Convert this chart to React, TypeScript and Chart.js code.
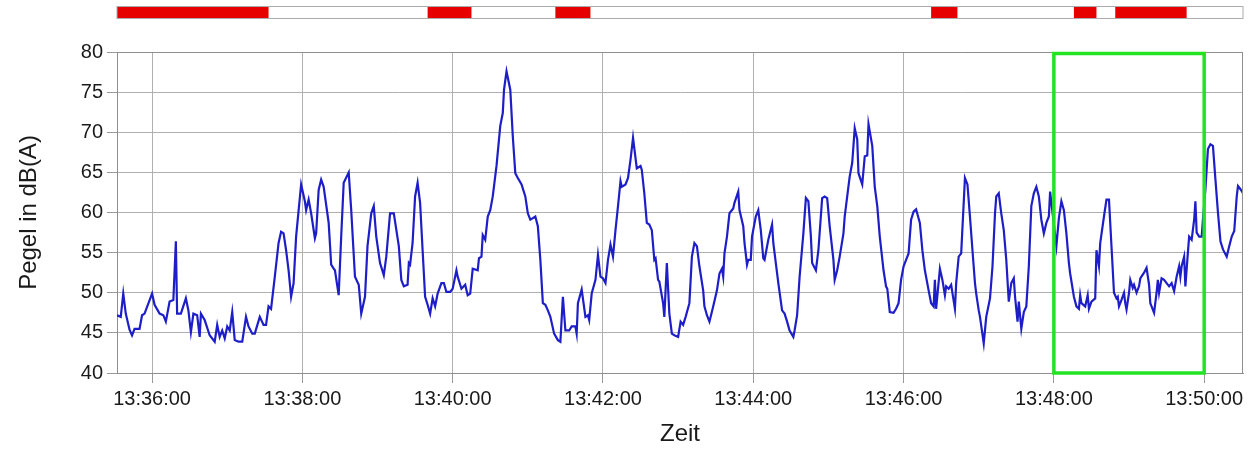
import { useEffect, useRef } from 'react';
import { Chart, registerables } from 'chart.js';

Chart.register(...registerables);

// Zeit in Sekunden nach 13:35:00
const zeitSek = [
  32, 35, 37, 39, 42, 44, 46, 50, 52, 54, 60, 62, 66, 69, 71, 74, 77, 79, 80, 83, 87, 89, 91, 93, 96, 98, 99, 102, 106, 110, 112, 114, 116, 118, 120, 122, 124, 126, 129, 132, 135, 137, 140,
  142, 146, 149, 151, 153, 155, 158, 161, 163, 165, 167, 169, 171, 173, 175, 179, 182, 183, 185, 187, 190, 191, 193, 195, 197, 201, 203, 205, 206, 209, 211, 213, 217, 219, 222, 225, 227, 230, 232, 235, 237, 239, 242, 245, 247, 250, 253, 257,
  259, 261, 264, 265, 266, 268, 270, 272, 274, 276, 278, 280, 282, 284, 286, 288, 291, 293, 295, 298, 300, 303, 304, 307, 310, 312, 314, 316, 320, 321, 323, 324, 326, 328, 330, 332, 335, 338, 340, 341, 343, 346, 348, 350, 352, 355, 358, 360, 362, 364, 366, 368, 370, 372,
  374, 376, 378, 381, 384, 386, 388, 390, 393, 395, 398, 399, 400, 403, 406, 408, 409, 411, 414, 416, 418, 420, 422, 424, 426, 428, 430, 432, 434, 435, 438, 440, 442, 444, 447, 450, 451, 453, 455, 457, 459, 461, 462, 464, 465, 468, 469, 471, 473, 475, 477, 480, 482, 484, 486, 489,
  491, 493, 495, 497, 500, 501, 503, 505, 508, 511, 513, 515, 516, 517, 519, 521, 524, 525, 528, 529, 532, 533, 535, 536, 538, 539, 542, 544, 546, 548, 549, 552, 555, 556, 558, 560, 563, 565, 567, 569, 572, 573, 575, 577, 580, 582, 584, 586, 587, 590, 592, 595, 597, 599, 601, 604,
  605, 607, 609, 612, 613, 615, 617, 619, 621, 623, 624, 627, 629, 631, 632, 635, 637, 639, 641, 644, 646, 647, 649, 652, 654, 656, 658, 660, 662, 664, 666, 668, 670, 673, 675, 677, 680, 682, 684, 685, 686, 689, 691, 693, 694, 696, 698, 701, 702, 704, 706, 709, 711, 713, 715, 717, 718, 720,
  721, 724, 726, 729, 731, 733, 734, 736, 738, 740, 742, 744, 746, 748, 749, 751, 752, 754, 756, 758, 760, 762, 764, 766, 768, 770, 772, 774, 776, 777, 782, 784, 786, 788, 790, 792, 793, 796, 798, 800, 801, 802, 805, 807, 808, 810, 813, 814, 816, 817, 820, 822, 824,
  826, 828, 830, 831, 832, 834, 836, 837, 838, 840, 841, 843, 844, 846, 848, 849, 852, 854, 856, 857, 858, 860, 862, 863, 864, 866, 868, 870, 872, 874, 876, 878, 880, 881, 882, 884, 885, 887, 888, 890, 892, 893, 894, 896, 898, 899, 901, 903, 905, 907, 909, 911, 913, 915, 918, 920, 922, 924, 926, 927, 929, 931,
];

// Pegel in dB(A)
const pegel = [
  47.2, 47.0, 49.9, 47.4, 45.4, 44.7, 45.5, 45.5, 47.2, 47.4, 49.9, 48.5, 47.4, 47.2, 46.4, 48.9, 49.1, 56.4, 47.4, 47.4, 49.3, 47.8, 45.1, 47.4, 47.2, 44.5, 47.4, 46.6, 44.7, 43.9, 46.0, 44.5, 45.3, 44.3, 45.8, 45.3, 47.6, 44.1, 43.9, 43.9, 47.0, 45.8, 44.9,
  44.9, 47.0, 46.0, 46.0, 48.3, 48.0, 52.0, 56.2, 57.6, 57.4, 55.3, 52.8, 49.5, 51.2, 57.0, 63.5, 61.4, 60.3, 61.6, 59.9, 56.8, 57.4, 62.8, 64.1, 63.2, 58.7, 53.5, 53.0, 52.8, 49.7, 57.0, 63.7, 65.0, 60.3, 52.0, 51.0, 47.4, 49.5, 55.8, 59.9, 60.8, 57.0, 53.7, 52.2, 54.5, 59.9, 59.9, 55.8,
  51.6, 50.8, 51.0, 53.7, 53.5, 56.2, 62.0, 63.7, 61.2, 55.3, 49.5, 48.5, 47.4, 49.3, 48.3, 49.9, 51.2, 51.2, 50.1, 50.1, 50.5, 52.8, 52.0, 50.5, 51.0, 49.7, 49.9, 53.0, 52.8, 54.3, 54.5, 57.2, 56.6, 59.5, 60.3, 62.0, 65.8, 70.8, 72.4, 75.3, 77.6, 75.3, 69.5, 64.9, 64.3, 63.5, 62.0, 59.9, 59.1, 59.3, 59.5, 58.3, 54.1, 48.7,
  48.5, 47.8, 47.0, 44.9, 44.1, 43.9, 49.5, 45.3, 45.3, 45.8, 45.8, 44.9, 48.7, 50.4, 47.0, 47.2, 46.6, 49.9, 51.6, 54.7, 52.0, 51.8, 51.2, 54.1, 56.0, 54.5, 57.8, 60.8, 63.9, 63.2, 63.5, 64.3, 66.6, 69.3, 65.5, 65.8, 65.3, 62.4, 58.7, 58.5, 57.8, 54.1, 54.3, 51.6, 51.4, 48.7, 47.0, 53.7, 47.4, 44.9, 44.7, 44.5, 46.4, 46.0, 47.0, 48.7,
  54.5, 56.2, 55.8, 53.3, 50.3, 48.3, 47.2, 46.4, 48.3, 50.3, 52.4, 53.0, 52.0, 54.9, 57.0, 59.9, 60.5, 61.2, 62.6, 60.3, 58.3, 56.2, 53.5, 54.1, 54.1, 57.0, 59.5, 60.3, 57.8, 54.3, 54.1, 56.6, 58.5, 56.2, 53.7, 51.2, 47.8, 47.4, 46.4, 45.3, 44.5, 45.3, 47.2, 52.0, 57.4, 61.8, 61.4, 57.0, 53.7, 52.8, 55.3, 61.8, 62.0, 61.8, 58.3, 54.1,
  51.6, 52.8, 54.5, 57.4, 59.5, 62.0, 64.5, 66.2, 70.5, 69.1, 64.9, 63.5, 67.0, 67.1, 71.0, 68.3, 63.2, 60.8, 57.0, 52.8, 50.8, 50.5, 47.6, 47.5, 48.0, 48.7, 51.6, 53.3, 54.1, 54.9, 59.1, 60.1, 60.4, 58.7, 55.3, 52.8, 50.3, 48.7, 48.3, 51.6, 48.0, 53.0, 51.6, 49.7, 50.8, 50.5, 51.0, 48.0, 51.2, 54.5, 54.9, 64.3, 63.5, 59.5, 55.3, 51.2, 49.9, 47.8,
  47.0, 43.7, 47.0, 49.3, 53.3, 59.9, 62.0, 62.4, 59.9, 57.8, 54.1, 48.9, 51.2, 51.8, 49.5, 46.4, 48.9, 45.5, 47.6, 48.3, 53.3, 60.8, 62.4, 63.2, 62.0, 59.1, 57.4, 58.7, 59.5, 62.6, 55.8, 59.3, 61.4, 60.3, 57.4, 53.7, 52.4, 49.5, 48.3, 48.0, 49.7, 48.7, 48.3, 49.7, 48.0, 48.9, 49.3, 55.3, 53.3, 56.2, 59.5, 61.6, 61.6,
  55.8, 50.0, 49.3, 49.5, 48.3, 49.1, 50.0, 48.7, 47.9, 50.0, 51.6, 50.6, 51.0, 50.0, 50.8, 51.8, 52.5, 53.1, 51.0, 48.7, 48.3, 47.5, 50.0, 51.6, 50.0, 51.8, 51.6, 51.2, 50.8, 51.2, 50.2, 52.0, 53.3, 52.0, 53.3, 54.5, 50.8, 55.0, 57.0, 56.6, 59.1, 61.4, 57.5, 57.0, 57.0, 59.1, 62.9, 67.9, 68.5, 68.3, 64.1, 60.0, 56.4, 55.4, 54.5, 55.8, 57.0, 57.7, 62.0, 63.3, 62.9, 62.4,
];

const zeitTicks = ['13:36:00', '13:38:00', '13:40:00', '13:42:00', '13:44:00', '13:46:00', '13:48:00', '13:50:00'];
const pegelMin = 40;
const pegelMax = 80;
const pegelSchritt = 5;
const xStart = '13:35:32';
const xEnde = '13:50:31';

// grün markierter Bereich
const markierungStart = '13:48:00';
const markierungEnde = '13:50:00';

// rote Ereignisse in der oberen Leiste
const ereignisStart = ['13:35:32', '13:39:40', '13:41:22', '13:46:22', '13:48:16', '13:48:49'];
const ereignisEnde = ['13:37:33', '13:40:15', '13:41:50', '13:46:43', '13:48:34', '13:49:46'];

function toSek(t: string): number {
  const [h, m, s] = t.split(':').map(Number);
  return h * 3600 + m * 60 + s - (13 * 3600 + 35 * 60);
}

const FONT = "'Liberation Sans', Arial, sans-serif";
const TEXT = '#1a1a1a';
const GRID = '#b0b0b0';

const overlay = {
  id: 'overlay',
  afterDatasetsDraw(chart: any) {
    const { ctx, chartArea: a, scales } = chart;
    const x = scales.x;
    const y = scales.y;
    ctx.save();
    // Rahmen
    ctx.strokeStyle = '#8f8f8f';
    ctx.lineWidth = 1;
    ctx.beginPath();
    ctx.moveTo(a.left, Math.round(a.top) + 0.5);
    ctx.lineTo(a.right, Math.round(a.top) + 0.5);
    ctx.moveTo(Math.round(a.right) - 0.5, a.top);
    ctx.lineTo(Math.round(a.right) - 0.5, a.bottom);
    ctx.stroke();
    // grüner Kasten
    const gx0 = x.getPixelForValue(toSek(markierungStart));
    const gx1 = x.getPixelForValue(toSek(markierungEnde));
    const gy0 = y.getPixelForValue(pegelMax);
    const gy1 = y.getPixelForValue(pegelMin);
    ctx.strokeStyle = '#22e322';
    ctx.lineWidth = 3.5;
    ctx.strokeRect(gx0, gy0 + 1.5, gx1 - gx0, gy1 - gy0 - 1.5);
    ctx.restore();
  },
  afterDraw(chart: any) {
    const { ctx, chartArea: a, scales } = chart;
    const x = scales.x;
    const top = 6.5;
    const h = 12;
    ctx.save();
    ctx.fillStyle = '#ffffff';
    ctx.fillRect(a.left, top, a.right - a.left, h);
    ctx.fillStyle = '#e60000';
    for (let i = 0; i < ereignisStart.length; i++) {
      const x0 = x.getPixelForValue(toSek(ereignisStart[i]));
      const x1 = x.getPixelForValue(toSek(ereignisEnde[i]));
      ctx.fillRect(x0, top, x1 - x0, h);
    }
    ctx.strokeStyle = '#ababab';
    ctx.lineWidth = 1;
    ctx.strokeRect(a.left, top, a.right - a.left, h);
    ctx.restore();
  },
};

export default function App() {
  const ref = useRef<HTMLCanvasElement | null>(null);

  useEffect(() => {
    if (!ref.current) return;
    const chart = new Chart(ref.current, {
      type: 'line',
      data: {
        datasets: [
          {
            data: zeitSek.map((t, i) => ({ x: t, y: pegel[i] })),
            borderColor: '#1e1ec8',
            borderWidth: 2.2,
            pointRadius: 0,
            tension: 0,
            fill: false,
          },
        ],
      },
      options: {
        animation: false,
        responsive: true,
        maintainAspectRatio: false,
        layout: { padding: { top: 52, right: 14, left: 0, bottom: 0 } },
        plugins: { legend: { display: false }, tooltip: { enabled: false } },
        scales: {
          x: {
            type: 'linear',
            min: toSek(xStart),
            max: toSek(xEnde),
            afterBuildTicks: (axis: any) => {
              axis.ticks = zeitTicks.map((t) => ({ value: toSek(t) }));
            },
            afterFit: (axis: any) => {
              axis.height = 77;
            },
            ticks: {
              autoSkip: false,
              maxRotation: 0,
              padding: 4,
              color: TEXT,
              font: { family: FONT, size: 20 },
              callback: (_v: any, i: number) => zeitTicks[i],
            },
            grid: { color: GRID, tickLength: 10, tickColor: '#999999' },
            border: { color: '#8f8f8f' },
            title: {
              display: true,
              text: 'Zeit',
              color: TEXT,
              font: { family: FONT, size: 24 },
              padding: { top: 0, bottom: 1 },
            },
          },
          y: {
            min: pegelMin,
            max: pegelMax,
            afterFit: (axis: any) => {
              axis.width = 117;
            },
            ticks: {
              stepSize: pegelSchritt,
              padding: 4,
              color: TEXT,
              font: { family: FONT, size: 20 },
            },
            grid: { color: GRID, tickLength: 10, tickColor: '#999999' },
            border: { color: '#8f8f8f' },
            title: {
              display: true,
              text: 'Pegel in dB(A)',
              color: TEXT,
              font: { family: FONT, size: 24 },
              padding: { top: 15, bottom: 0 },
            },
          },
        },
      },
      plugins: [overlay],
    });
    return () => chart.destroy();
  }, []);

  return (
    <div style={{ position: 'fixed', left: 0, top: 0, width: 1257, height: 450, background: '#ffffff' }}>
      <canvas ref={ref} />
    </div>
  );
}
